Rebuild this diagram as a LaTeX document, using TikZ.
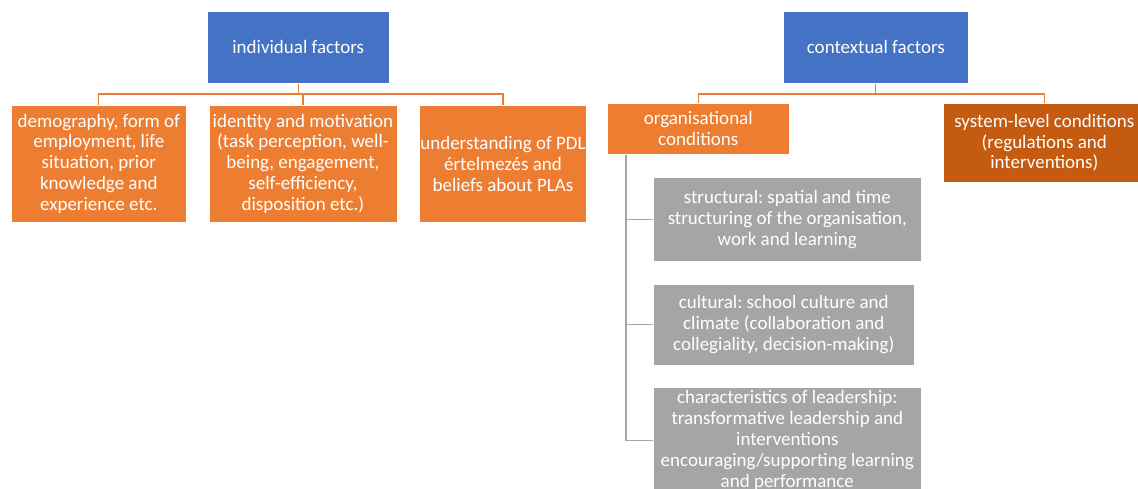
\documentclass[tikz,border=0pt]{standalone}
\usepackage{fontspec}
\setmainfont{Carlito}
\usetikzlibrary{positioning}
\definecolor{headblue}{HTML}{4472C4}
\definecolor{itemorange}{HTML}{ED7D31}
\definecolor{sysorange}{HTML}{C55A11}
\definecolor{subgray}{HTML}{A5A5A5}
\tikzset{
	factor/.style={fill=headblue, draw=white, line width=0.6pt, align=center, text=white, inner sep=0pt},
	item/.style={fill=itemorange, draw=white, line width=0.6pt, align=center, text=white, inner sep=0pt},
	sysitem/.style={item, fill=sysorange},
	subitem/.style={item, fill=subgray},
	link/.style={draw=itemorange, line width=1.2pt},
	sublink/.style={draw=subgray, line width=1.2pt}
}
\frenchspacing

\begin{document}
\begin{tikzpicture}[x=1pt, y=-1pt, node distance=22pt, font=\fontsize{19}{20.9}\selectfont]
	\useasboundingbox (0,0) rectangle (1138,489);
	\clip (0,0) rectangle (1138,489);
	% the two heads
	\node[factor, anchor=north west, minimum width=182pt, minimum height=72pt] (ind) at (207,11) {individual factors};
	\node[factor, anchor=north west, minimum width=185pt, minimum height=72pt] (ctx) at (783,11) {contextual factors};
	% individual side
	\node[item, anchor=north west, minimum width=175pt, minimum height=117pt] (demo) at (11,105)
		{demography, form of\\employment, life\\situation, prior\\knowledge and\\experience etc.};
	\node[item, right=of demo, minimum width=188pt, minimum height=117pt] (ident)
		{identity and motivation\\(task perception, well-\\being, engagement,\\self-efficiency,\\disposition etc.)};
	\node[item, right=of ident, minimum width=167pt, minimum height=117pt] (pdl)
		{understanding of PDL\\értelmezés and\\beliefs about PLAs};
	% contextual side
	\node[item, anchor=north west, minimum width=182pt, minimum height=51pt] (org) at (607,103)
		{organisational\\conditions};
	\node[sysitem, anchor=north west, minimum width=202pt, minimum height=79pt] (sys) at (943,103)
		{system-level conditions\\(regulations and\\interventions)};
	\node[subitem, anchor=north west, minimum width=268pt, minimum height=84pt] (struct) at (653,177)
		{structural: spatial and time\\structuring of the organisation,\\work and learning};
	\node[subitem, below=of struct.south west, anchor=north west, minimum width=261pt, minimum height=81pt] (cult)
		{cultural: school culture and\\climate (collaboration and\\collegiality, decision-making)};
	\node[subitem, below=of cult.south west, anchor=north west, minimum width=268pt, minimum height=106pt] (lead)
		{characteristics of leadership:\\transformative leadership and\\interventions\\encouraging/supporting learning\\and performance};
	% tree lines
	\foreach \c in {demo,ident,pdl}
		\draw[link] (ind.south) -- ++(0,10.5) -| (\c.north);
	\foreach \c in {org,sys}
		\draw[link] (ctx.south) -- ++(0,10.5) -| (\c.north);
	\foreach \c in {struct,cult,lead}
		\draw[sublink] ([xshift=19pt]org.south west) |- (\c.west);
\end{tikzpicture}
\end{document}
